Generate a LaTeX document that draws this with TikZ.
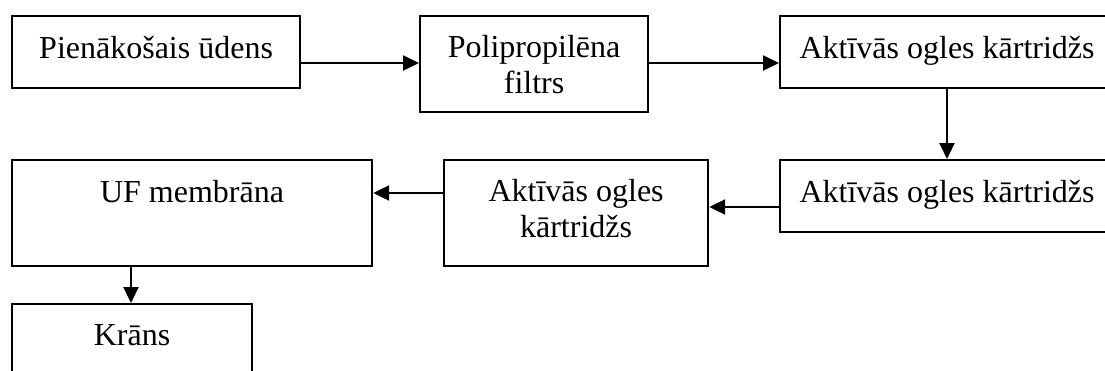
\documentclass[tikz,border=0pt]{standalone}
\usepackage{fontspec}
\setmainfont{Liberation Serif}
\usetikzlibrary{arrows.meta}
\newcommand{\boxtext}[4]{\parbox[c][#1pt][t]{#2pt}{\centering\fontsize{32}{36}\selectfont\rule{0pt}{#3pt}#4\par}}
\begin{document}
\begin{tikzpicture}[x=1pt,y=-1pt,
  stagebox/.style={draw, line width=2.2pt, inner sep=0pt, anchor=north west},
  flow/.style={draw, line width=2.2pt, -{Triangle[length=16pt,width=15pt]}}]
\clip (0,0) rectangle (1105,370);
\fill[white] (0,0) rectangle (1105,370);
\node[stagebox] (b1) at (11,15) {\boxtext{72}{288}{42}{Pienākošais ūdens}};
\node[stagebox] (b2) at (419,15) {\boxtext{96}{228}{41}{Polipropilēna\\filtrs}};
\node[stagebox] (b3) at (779,15) {\boxtext{72}{340}{42}{\hspace*{-6pt}Aktīvās ogles kārtridžs}};
\node[stagebox] (b4) at (779,159) {\boxtext{72}{340}{42}{\hspace*{-6pt}Aktīvās ogles kārtridžs}};
\node[stagebox] (b5) at (443,159) {\boxtext{106}{264}{41}{Aktīvās ogles\\kārtridžs}};
\node[stagebox] (b6) at (11,159) {\boxtext{106}{360}{42}{UF membrāna}};
\node[stagebox] (b7) at (11,303) {\boxtext{90}{240}{41}{Krāns}};
\draw[flow] (b1.east |- 0,63) -- (b2.west |- 0,63);
\draw[flow] (b2.east |- 0,63) -- (b3.west |- 0,63);
\draw[flow] (b3.south -| 947,0) -- (b4.north -| 947,0);
\draw[flow] (b4.west |- 0,207) -- (b5.east |- 0,207);
\draw[flow] (b5.west |- 0,193) -- (b6.east |- 0,193);
\draw[flow] (b6.south -| 131,0) -- (b7.north -| 131,0);
\end{tikzpicture}
\end{document}
